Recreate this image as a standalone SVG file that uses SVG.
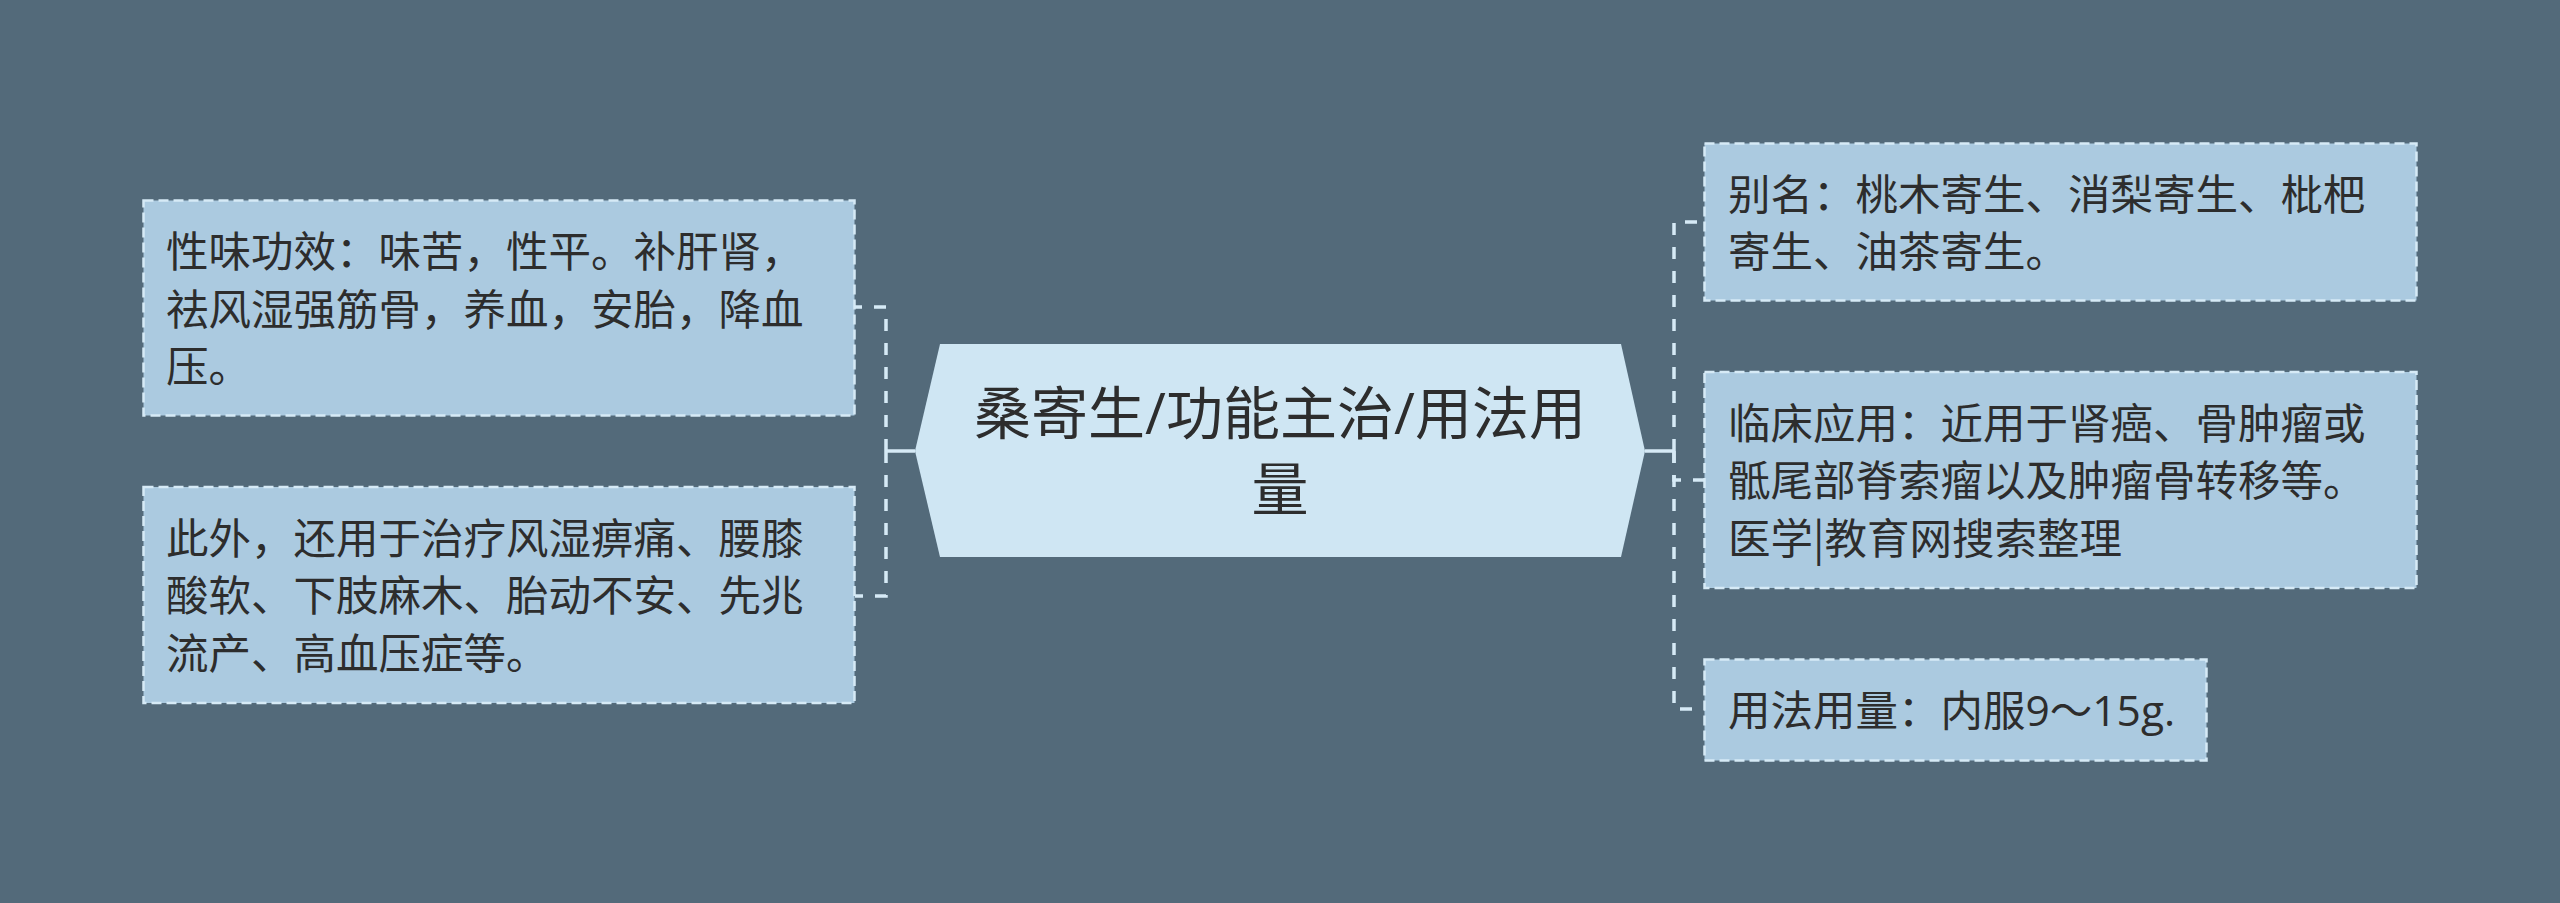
<svg xmlns="http://www.w3.org/2000/svg" width="2560" height="903" viewBox="0 0 2560 903">
<style>
.bg{fill:#536a7a}
.box{fill:#abcae0;stroke:#d6eaf6;stroke-width:2.5;stroke-dasharray:10 5}
.hex{fill:#cfe6f3}
.t{font-family:"Open Sans","Noto Sans CJK SC",sans-serif;font-size:42.5px;fill:#2d2d2d}
.cjk{font-family:"Noto Sans CJK SC",sans-serif}
.ct{font-family:"Open Sans","Noto Sans CJK SC",sans-serif;font-size:57px;fill:#2d2d2d;text-anchor:middle}
.dash{fill:none;stroke:#d6eaf6;stroke-width:3.5;stroke-dasharray:12 12}
.solid{fill:none;stroke:#d6eaf6;stroke-width:3.5}
</style>
<rect class="bg" x="0" y="0" width="2560" height="903"/>
<g id="connectors">
<path class="solid" d="M915,451 H886"/>
<path class="dash" d="M886,451 V307 H855"/>
<path class="dash" d="M886,451 V596 H855"/>
<path class="solid" d="M1645,451 H1674"/>
<path class="dash" d="M1674,451 V222 H1705"/>
<path class="dash" d="M1674,451 V480 H1705"/>
<path class="dash" d="M1674,451 V709 H1705"/>
</g>
<g id="center">
<polygon class="hex" points="915,451 940,344 1621,344 1645,451 1621,557 940,557"/>
<text class="ct" x="1280" y="434">桑寄生/功能主治/用法用</text>
<text class="ct" x="1280" y="510">量</text>
</g>
<g id="left1">
<rect class="box" x="143.5" y="200.5" width="711" height="215"/>
<text class="t" x="166" y="267">性味功效：味苦，性平。补肝肾，</text>
<text class="t" x="166" y="324.5">祛风湿强筋骨，养血，安胎，降血</text>
<text class="t" x="166" y="382">压。</text>
</g>
<g id="left2">
<rect class="box" x="143.5" y="487" width="711" height="216"/>
<text class="t" x="166" y="553.5">此外，还用于治疗风湿痹痛、腰膝</text>
<text class="t" x="166" y="611">酸软、下肢麻木、胎动不安、先兆</text>
<text class="t" x="166" y="668.5">流产、高血压症等。</text>
</g>
<g id="right1">
<rect class="box" x="1704.5" y="143.5" width="712" height="157"/>
<text class="t" x="1728" y="210">别名：桃木寄生、消梨寄生、枇杷</text>
<text class="t" x="1728" y="267">寄生、油茶寄生。</text>
</g>
<g id="right2">
<rect class="box" x="1704.5" y="372" width="712" height="216"/>
<text class="t" x="1728" y="438.5">临床应用：近用于肾癌、骨肿瘤或</text>
<text class="t" x="1728" y="496">骶尾部脊索瘤以及肿瘤骨转移等。</text>
<text class="t cjk" x="1728" y="553.5">医学|教育网搜索整理</text>
</g>
<g id="right3">
<rect class="box" x="1704.5" y="659.5" width="502" height="101"/>
<text class="t" x="1728" y="726">用法用量：内服9～15g.</text>
</g>
</svg>
